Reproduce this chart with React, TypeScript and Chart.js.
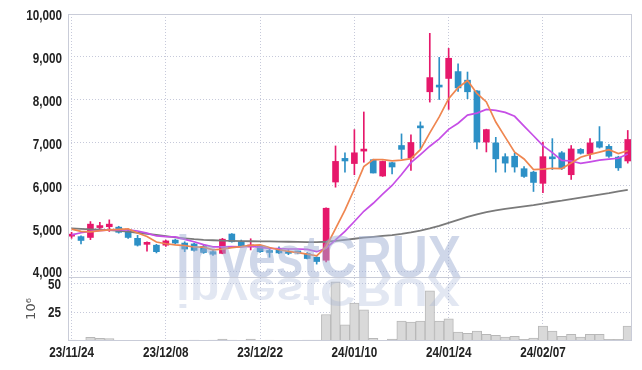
import React, { useEffect, useRef } from 'react';
import { Chart, registerables } from 'chart.js';
Chart.register(...registerables);

const dates = [
  '23/11/24', '23/11/27', '23/11/28', '23/11/29', '23/11/30', '23/12/01', '23/12/04', '23/12/05', '23/12/06', '23/12/07',
  '23/12/08', '23/12/11', '23/12/12', '23/12/13', '23/12/14', '23/12/15', '23/12/18', '23/12/19', '23/12/20', '23/12/21',
  '23/12/22', '23/12/26', '23/12/27', '23/12/28', '24/01/02', '24/01/03', '24/01/04', '24/01/05', '24/01/08', '24/01/09',
  '24/01/10', '24/01/11', '24/01/12', '24/01/15', '24/01/16', '24/01/17', '24/01/18', '24/01/19', '24/01/22', '24/01/23',
  '24/01/24', '24/01/25', '24/01/26', '24/01/29', '24/01/30', '24/01/31', '24/02/01', '24/02/02', '24/02/05', '24/02/06',
  '24/02/07', '24/02/08', '24/02/13', '24/02/14', '24/02/15', '24/02/16', '24/02/19', '24/02/20', '24/02/21', '24/02/22',
];

const opens = [
  4830, 4820, 4800, 5030, 5050, 5040, 4920, 4780, 4640, 4620,
  4620, 4740, 4670, 4650, 4590, 4470, 4430, 4880, 4700, 4580,
  4610, 4470, 4530, 4470, 4450, 4430, 4340, 4270, 6090, 6640,
  6520, 6810, 6610, 6230, 6540, 6940, 6650, 7370, 8190, 8320,
  8500, 8660, 8460, 8210, 7020, 7000, 6680, 6690, 6400, 6320,
  6060, 6650, 6770, 6260, 6850, 6750, 7030, 6920, 6670, 6580,
];
const highs = [
  4920, 4840, 5170, 5150, 5210, 5060, 4980, 4850, 4700, 4640,
  4740, 4760, 4700, 4670, 4620, 4520, 4780, 4890, 4740, 4770,
  4620, 4540, 4580, 4520, 4480, 4450, 4350, 5490, 6930, 6770,
  7310, 7720, 6620, 6580, 6550, 7210, 7190, 7490, 9550, 8990,
  9200, 8840, 8650, 8220, 7320, 7130, 6750, 6760, 6450, 6340,
  7020, 7100, 6800, 6940, 6870, 7100, 7380, 6960, 6690, 7290,
];
const lows = [
  4780, 4650, 4750, 4960, 4940, 4900, 4780, 4600, 4480, 4440,
  4590, 4650, 4470, 4480, 4430, 4380, 4420, 4690, 4580, 4510,
  4450, 4340, 4420, 4400, 4420, 4300, 4180, 4230, 5970, 6320,
  6260, 6550, 6300, 6220, 6280, 6630, 6360, 6870, 7950, 8010,
  7780, 8200, 8030, 6860, 6790, 6320, 6320, 6320, 6200, 5870,
  5840, 6380, 6380, 6150, 6740, 6630, 6880, 6660, 6360, 6530,
];
const closes = [
  4860, 4730, 5110, 5070, 5110, 4920, 4800, 4620, 4660, 4470,
  4720, 4670, 4530, 4500, 4450, 4410, 4760, 4700, 4610, 4600,
  4470, 4450, 4440, 4430, 4440, 4310, 4240, 5480, 6570, 6580,
  6770, 6840, 6300, 6570, 6440, 6850, 7010, 7350, 8520, 8300,
  8970, 8280, 8190, 7020, 7310, 6630, 6530, 6440, 6220, 6080,
  6680, 6630, 6410, 6860, 6760, 7000, 6900, 6690, 6420, 7080,
];

// volume, millions
const volumes = [
  0.8, 0.6, 3.2, 2.3, 2.2, 0.6, 0.5, 0.5, 0.4, 0.5,
  0.5, 0.5, 0.6, 0.8, 0.5, 0.9, 1.7, 0.7, 0.5, 1.7,
  0.6, 0.7, 0.5, 0.4, 0.5, 0.9, 0.9, 23, 51.5, 14,
  33, 27, 2.3, 0.5, 1.7, 17.4, 16.5, 17.4, 43.5, 17.4,
  19.2, 7.8, 6.7, 8.7, 5.8, 4.9, 3.5, 4.1, 1.5, 2.6,
  13, 8.7, 4.1, 5.8, 3.5, 5.8, 5.8, 1.5, 1.5, 13,
];

const maShort = [
  4995, 4940, 4930, 4960, 4976, 4988, 5002, 4904, 4822, 4694,
  4654, 4628, 4610, 4578, 4574, 4512, 4530, 4564, 4586, 4616,
  4628, 4566, 4514, 4478, 4446, 4414, 4372, 4580, 5008, 5436,
  5928, 6448, 6612, 6612, 6584, 6600, 6634, 6844, 7234, 7606,
  8030, 8284, 8452, 8152, 7954, 7486, 7136, 6786, 6626, 6380,
  6390, 6410, 6404, 6532, 6668, 6732, 6786, 6842, 6754, 6818,
];
const maMid = [
  4860, 4910, 4940, 4960, 4975, 4980, 4975, 4950, 4900, 4835,
  4821, 4815, 4757, 4700, 4634, 4583, 4579, 4587, 4582, 4595,
  4570, 4548, 4539, 4532, 4531, 4521, 4469, 4547, 4743, 4941,
  5171, 5410, 5596, 5810, 6010, 6264, 6541, 6728, 6923, 7095,
  7315, 7459, 7648, 7693, 7780, 7758, 7710, 7619, 7389, 7167,
  6938, 6773, 6595, 6579, 6524, 6561, 6598, 6623, 6643, 6743,
];
const maLong = [
  5010, 5000, 4990, 4980, 4970, 4955, 4935, 4910, 4885, 4860,
  4830, 4800, 4780, 4760, 4745, 4735, 4725, 4720, 4715, 4712,
  4710, 4707, 4704, 4700, 4697, 4693, 4690, 4700, 4720, 4745,
  4770, 4795, 4815, 4835, 4855, 4885, 4920, 4960, 5010, 5070,
  5140, 5210, 5280, 5340, 5390, 5430, 5465, 5495, 5525, 5555,
  5590, 5625, 5655, 5690, 5725, 5760, 5795, 5830, 5870, 5910,
];

const xTickIndices = [0, 10, 20, 30, 40, 50];
const priceTicks = [4000, 5000, 6000, 7000, 8000, 9000, 10000];
const volumeTicks = [25, 50];
const watermarkText = 'investCRUX';

const RED = '#e6186b';
const BLUE = '#2d90c6';
const GRID = '#c6c9da';
const FRAME = '#c9ccd8';
const LABEL_FONT = "bold 15px 'Liberation Sans', Arial, sans-serif";
const LABEL_SCALE = 0.78;

const framePlugin = {
  id: 'frames',
  afterDatasetsDraw(chart: any) {
    const { ctx } = chart;
    const x = chart.scales.x;
    const y = chart.scales.y;
    const yv = chart.scales.yv;
    ctx.save();
    // watermark
    ctx.font = "bold 59px 'Liberation Sans', Arial, sans-serif";
    const w = ctx.measureText(watermarkText).width;
    const sx = 285 / w;
    const baseline = y.bottom;
    ctx.save();
    ctx.translate(176, baseline);
    ctx.scale(sx, 1);
    ctx.fillStyle = 'rgba(160,175,212,0.5)';
    ctx.textBaseline = 'alphabetic';
    ctx.fillText(watermarkText, 0, 0);
    ctx.restore();
    ctx.save();
    ctx.beginPath();
    ctx.rect(x.left, baseline + 1, x.right - x.left, 30);
    ctx.clip();
    ctx.translate(176, baseline + 1);
    ctx.scale(sx, -0.7);
    ctx.fillStyle = 'rgba(160,175,212,0.3)';
    ctx.textBaseline = 'alphabetic';
    ctx.fillText(watermarkText, 0, 0);
    ctx.restore();
    // frames
    ctx.strokeStyle = FRAME;
    ctx.lineWidth = 1;
    ctx.strokeRect(Math.round(x.left) + 0.5, Math.round(y.top) + 0.5, Math.round(x.right - x.left) - 1, Math.round(y.bottom - y.top));
    ctx.strokeRect(Math.round(x.left) + 0.5, Math.round(yv.top) + 0.5, Math.round(x.right - x.left) - 1, Math.round(yv.bottom - yv.top) - 1);
    ctx.restore();
  },
  afterDraw(chart: any) {
    const { ctx } = chart;
    const x = chart.scales.x;
    const y = chart.scales.y;
    const yv = chart.scales.yv;
    const label = (text: string, px: number, py: number, align: CanvasTextAlign) => {
      ctx.save();
      ctx.translate(px, py);
      ctx.scale(LABEL_SCALE, 1);
      ctx.font = LABEL_FONT;
      ctx.fillStyle = '#222';
      ctx.textAlign = align;
      ctx.textBaseline = 'middle';
      ctx.fillText(text, 0, 0);
      ctx.restore();
    };
    priceTicks.forEach((v) => label(v.toLocaleString('en-US'), x.left - 6, y.getPixelForValue(v) + 1.5, 'right'));
    volumeTicks.forEach((v) => label(String(v), x.left - 7, yv.getPixelForValue(v) + 1, 'right'));
    xTickIndices.forEach((i) => label(dates[i], x.getPixelForValue(i), x.top + 12, 'center'));
  },
};

export default function App() {
  const ref = useRef<HTMLCanvasElement>(null);
  useEffect(() => {
    document.body.style.margin = '0';
    const idx = dates.map((_, i) => i);
    const colors = idx.map((i) => (closes[i] >= opens[i] ? RED : BLUE));
    const chart = new Chart(ref.current as HTMLCanvasElement, {
      type: 'line',
      data: {
        datasets: [
          {
            type: 'line', label: 'MA5', data: idx.map((i) => ({ x: i, y: maShort[i] })),
            borderColor: '#ef8650', borderWidth: 1.7, pointRadius: 0, yAxisID: 'y', order: 0,
          },
          {
            type: 'line', label: 'MA10', data: idx.map((i) => ({ x: i, y: maMid[i] })),
            borderColor: '#c64ee6', borderWidth: 1.7, pointRadius: 0, yAxisID: 'y', order: 0,
          },
          {
            type: 'line', label: 'MA long', data: idx.map((i) => ({ x: i, y: maLong[i] })),
            borderColor: '#7a7a7a', borderWidth: 1.8, pointRadius: 0, yAxisID: 'y', order: 0,
          },
          {
            type: 'bar', label: 'body', data: idx.map((i) => ({ x: i, y: [opens[i], closes[i]] })) as any,
            backgroundColor: colors, barThickness: 6, grouped: false, minBarLength: 2, yAxisID: 'y', order: 1,
          },
          {
            type: 'bar', label: 'wick', data: idx.map((i) => ({ x: i, y: [lows[i], highs[i]] })) as any,
            backgroundColor: colors, barThickness: 1, grouped: false, yAxisID: 'y', order: 2,
          },
          {
            type: 'bar', label: 'volume', data: idx.map((i) => ({ x: i, y: volumes[i] })),
            backgroundColor: '#d9d9d9', borderColor: '#b8b8b8', borderWidth: 1,
            barPercentage: 1, categoryPercentage: 1, grouped: false, yAxisID: 'yv', order: 3,
          },
        ] as any,
      },
      options: {
        animation: false,
        responsive: false,
        devicePixelRatio: 1,
        layout: { padding: { top: 14, right: 10, left: 0, bottom: 0 } },
        plugins: { legend: { display: false }, tooltip: { enabled: false } },
        scales: {
          x: {
            type: 'linear', min: -0.38, max: 59.45, offset: false,
            afterBuildTicks: (s: any) => { s.ticks = xTickIndices.map((v) => ({ value: v })); },
            afterFit: (s: any) => { s.height = 29; },
            ticks: { display: false },
            grid: { color: GRID, drawTicks: false, offset: false },
            border: { display: false, dash: [1, 2] },
          },
          yv: {
            type: 'linear', position: 'left', stack: 'panels', stackWeight: 64,
            min: 0, max: 55.6,
            afterBuildTicks: (s: any) => { s.ticks = volumeTicks.map((v) => ({ value: v })); },
            afterFit: (s: any) => { s.width = 68; },
            ticks: { display: false },
            title: {
              display: true, text: '10\u2076', color: '#555',
              font: { family: "'DejaVu Sans', sans-serif", size: 13 }, padding: { top: 24, bottom: 0 },
            },
            grid: { color: GRID, drawTicks: false },
            border: { display: false, dash: [1, 2] },
          },
          y: {
            type: 'linear', position: 'left', stack: 'panels', stackWeight: 263,
            min: 3880, max: 10000,
            afterBuildTicks: (s: any) => { s.ticks = priceTicks.map((v) => ({ value: v })); },
            afterFit: (s: any) => { s.width = 68; },
            ticks: { display: false },
            grid: { color: GRID, drawTicks: false },
            border: { display: false, dash: [1, 2] },
          },
        },
      } as any,
      plugins: [framePlugin],
    });
    return () => chart.destroy();
  }, []);
  return (
    <div style={{ width: 642, height: 370 }}>
      <canvas ref={ref} width={642} height={370} />
    </div>
  );
}
